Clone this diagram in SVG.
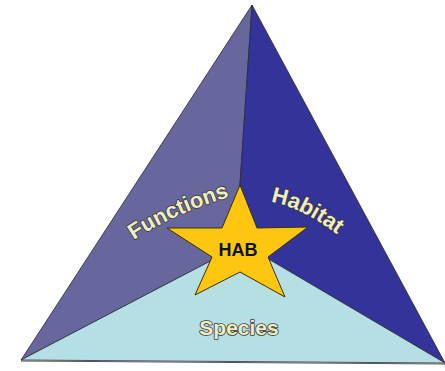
<svg xmlns="http://www.w3.org/2000/svg" width="445" height="371" viewBox="0 0 445 371">
<defs>
<style>
.face{stroke:#2a2a3a;stroke-width:0.8;stroke-linejoin:round}
.lbl{font-family:"Liberation Sans",Arial,sans-serif;font-weight:bold;font-size:22px;fill:#efecc6;stroke:#3b3b30;stroke-width:1.6;paint-order:stroke;stroke-linejoin:round}
</style>
<path id="pFun" d="M134,240 Q176,212 236,195"/>
<path id="pHab" d="M271,202 Q302,207 342,238"/>
</defs>
<rect width="445" height="371" fill="#ffffff"/>
<g id="face-left">
<polygon class="face" fill="#67679d" points="252,5 240,184 243,244 21,360"/>
</g>
<g id="face-right">
<polygon class="face" fill="#33339a" points="252,5 445,363 243,244 240,184"/>
</g>
<g id="face-bottom">
<polygon class="face" fill="#b6dfe3" points="21,360 243,244 445,363"/>
<line x1="21" y1="361" x2="445" y2="364" stroke="#555" stroke-width="1.2"/>
</g>
<g id="star">
<polygon fill="#fec60f" stroke="#3a3000" stroke-width="1" stroke-linejoin="miter" points="240,185 257,228 308,227 268,257 285,297 240,272 195,295 212,257 167,228 222,228"/>
<text x="238" y="256" text-anchor="middle" font-family="Liberation Sans,Arial,sans-serif" font-weight="bold" font-size="18" fill="#111">HAB</text>
</g>
<g id="label-functions">
<text class="lbl"><textPath href="#pFun">Functions</textPath></text>
</g>
<g id="label-habitat">
<text class="lbl"><textPath href="#pHab">Habitat</textPath></text>
</g>
<g id="label-species">
<text class="lbl" x="239" y="335" text-anchor="middle" style="font-size:21px">Species</text>
</g>
</svg>
